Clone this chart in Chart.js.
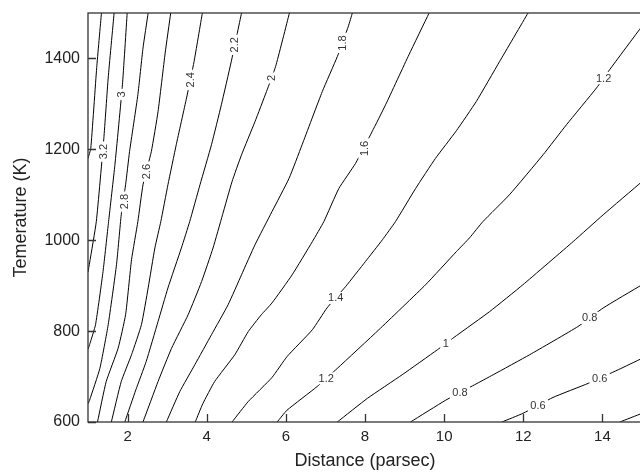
<!DOCTYPE html>
<html>
<head>
<meta charset="utf-8">
<script src="https://cdn.jsdelivr.net/npm/chart.js@4.4.0/dist/chart.umd.min.js"></script>
<style>
  html, body { margin: 0; padding: 0; background: #fff; overflow: hidden; }
  #wrap { width: 644px; height: 472px; }
</style>
</head>
<body>
<div id="wrap"><canvas id="chart" width="644" height="472"></canvas></div>
<script>
// axis ticks
const xTicks = [2, 4, 6, 8, 10, 12, 14];
const yTicks = [600, 800, 1000, 1200, 1400];

// contour lines (distance in parsec, temperature in K)
const dist34 = [1.34, 1.22, 1.07, 1.0];
const temp34 = [1500, 1380, 1202, 1180];
const dist32 = [1.66, 1.51, 1.40, 1.21, 1.04, 1.0];
const temp32 = [1500, 1357, 1224, 1041, 950, 930];
const dist30 = [1.99, 1.87, 1.68, 1.52, 1.38, 1.19, 1.05, 1.0];
const temp30 = [1500, 1342, 1166, 1041, 931, 814, 773, 760];
const dist28 = [2.52, 2.39, 2.26, 2.05, 1.95, 1.84, 1.72, 1.51, 1.30, 1.04, 1.0];
const temp28 = [1500, 1423, 1320, 1195, 1122, 1056, 946, 814, 718, 648, 640];
const dist26 = [3.09, 2.95, 2.77, 2.60, 2.39, 2.26, 2.10, 1.95, 1.76, 1.46, 1.24];
const temp26 = [1500, 1412, 1283, 1195, 1122, 1041, 957, 836, 762, 689, 600];
const dist24 = [3.89, 3.68, 3.49, 3.23, 3.02, 2.84, 2.69, 2.52, 2.35, 2.10, 1.84, 1.59];
const temp24 = [1500, 1393, 1313, 1210, 1122, 1041, 983, 895, 814, 748, 689, 600];
const dist22 = [4.88, 4.62, 4.37, 4.12, 3.83, 3.57, 3.36, 3.02, 2.77, 2.47, 2.21, 1.93];
const temp22 = [1500, 1393, 1298, 1210, 1122, 1041, 983, 895, 821, 733, 671, 600];
const dist20 = [6.09, 5.74, 5.51, 5.22, 4.88, 4.64, 4.40, 4.16, 3.87, 3.53, 3.11, 2.77, 2.39];
const temp20 = [1500, 1382, 1327, 1261, 1188, 1129, 1056, 983, 909, 836, 762, 689, 600];
const dist18 = [7.68, 7.58, 7.30, 6.92, 6.41, 6.08, 5.65, 5.22, 4.88, 4.54, 4.12, 3.70, 3.32, 2.98];
const temp18 = [1500, 1471, 1404, 1327, 1210, 1136, 1063, 990, 924, 858, 792, 726, 667, 600];
const dist16 = [9.62, 9.11, 8.52, 8.18, 7.76, 7.34, 6.96, 6.67, 6.16, 5.65, 5.38, 5.05, 4.71, 4.20, 3.90, 3.71];
const temp16 = [1500, 1408, 1298, 1239, 1169, 1114, 1041, 997, 924, 862, 836, 799, 748, 689, 640, 600];
const dist14 = [12.12, 11.40, 10.81, 10.31, 9.78, 9.28, 8.77, 8.44, 8.01, 7.51, 7.04, 6.67, 6.03, 5.65, 5.05, 4.64];
const temp14 = [1500, 1393, 1305, 1241, 1180, 1114, 1041, 1001, 953, 898, 851, 803, 744, 698, 645, 600];
const dist12 = [15, 14.18, 13.85, 13.09, 12.50, 11.65, 10.98, 10.64, 10.31, 9.53, 8.35, 7.30, 6.79, 6.03, 5.78];
const temp12 = [1471, 1375, 1335, 1254, 1188, 1100, 1041, 1005, 975, 902, 803, 718, 678, 626, 600];
const dist10 = [15, 14.02, 13.26, 11.99, 11.15, 10.31, 9.83, 8.94, 8.06, 7.30];
const temp10 = [1129, 1056, 997, 902, 843, 790, 759, 704, 652, 600];
const dist08 = [15, 14.02, 13.38, 12.16, 11.24, 10.77, 10.04, 9.15];
const temp08 = [902, 851, 810, 748, 704, 682, 648, 600];
const dist06 = [15, 14.40, 13.64, 12.75, 11.99, 11.46];
const temp06 = [740, 715, 685, 654, 619, 600];
const dist04 = [15, 14.44];
const temp04 = [619, 600];

const contourDist = [dist34, dist32, dist30, dist28, dist26, dist24, dist22, dist20, dist18, dist16, dist14, dist12, dist10, dist08, dist06, dist04];
const contourTemp = [temp34, temp32, temp30, temp28, temp26, temp24, temp22, temp20, temp18, temp16, temp14, temp12, temp10, temp08, temp06, temp04];

// contour labels (1 = upright text, 0 = turned along a steep line)
const labelText = ['3.2', '3', '2.8', '2.6', '2.4', '2.2', '2', '1.8', '1.6', '1.4', '1.2', '1.2', '1', '0.8', '0.8', '0.6', '0.6'];
const labelDist = [1.38, 1.85, 1.91, 2.49, 3.59, 4.71, 5.63, 7.43, 7.98, 7.26, 7.02, 14.03, 10.04, 10.40, 13.68, 12.37, 13.93];
const labelTemp = [1195, 1321, 1085, 1151, 1353, 1430, 1357, 1434, 1202, 873, 696, 1357, 773, 664, 829, 637, 696];
const labelUpright = [0, 0, 0, 0, 0, 0, 0, 0, 0, 1, 1, 1, 1, 1, 1, 1, 1];

const FONT = '"Liberation Sans", Arial, Helvetica, sans-serif';

// it is a good idea to wait for the DOM to load before drawing
document.addEventListener('DOMContentLoaded', function() {
    const datasets = contourDist.map(function(xs, i) {
        return {
            data: xs.map(function(d, j) { return {x: d, y: contourTemp[i][j]}; }),
            showLine: true,
            borderColor: '#000',
            borderWidth: 1,
            pointRadius: 0,
            tension: 0.15,
            fill: false
        };
    });

    // labels, frame and inward ticks drawn on top of the contours
    const contourExtras = {
        id: 'contourExtras',
        afterDatasetsDraw(chart) {
            const {ctx, chartArea: a, scales: {x, y}} = chart;
            ctx.save();
            ctx.font = '11px ' + FONT;
            ctx.textAlign = 'center';
            ctx.textBaseline = 'middle';
            labelText.forEach(function(t, i) {
                const px = x.getPixelForValue(labelDist[i]);
                const py = y.getPixelForValue(labelTemp[i]);
                ctx.save();
                ctx.translate(px, py);
                if (!labelUpright[i]) ctx.rotate(-Math.PI / 2);
                const w = ctx.measureText(t).width + 5;
                ctx.fillStyle = '#fff';
                ctx.fillRect(-w / 2, -6, w, 12);
                ctx.fillStyle = '#333';
                ctx.fillText(t, 0, 0.5);
                ctx.restore();
            });

            ctx.strokeStyle = '#333';
            ctx.lineWidth = 1.3;
            ctx.strokeRect(a.left, a.top, a.width, a.height);

            ctx.beginPath();
            xTicks.forEach(function(v) {
                const p = Math.round(x.getPixelForValue(v)) + 0.5;
                ctx.moveTo(p, a.bottom);
                ctx.lineTo(p, a.bottom - 8);
            });
            yTicks.forEach(function(v) {
                const p = Math.round(y.getPixelForValue(v)) + 0.5;
                ctx.moveTo(a.left, p);
                ctx.lineTo(a.left + 8, p);
            });
            ctx.stroke();
            ctx.restore();
        }
    };

    new Chart(document.getElementById('chart'), {
        type: 'scatter',
        data: { datasets: datasets },
        options: {
            responsive: false,
            animation: false,
            devicePixelRatio: 1,
            layout: { padding: { top: 13, right: 2, left: 0, bottom: 0 } },
            plugins: { legend: { display: false }, tooltip: { enabled: false } },
            scales: {
                x: {
                    type: 'linear',
                    min: 1,
                    max: 15,
                    afterBuildTicks: function(s) { s.ticks = xTicks.map(function(v) { return {value: v}; }); },
                    afterFit: function(s) { s.height = 50; s.paddingLeft = 0; s.paddingRight = 0; },
                    grid: { display: false, drawTicks: false },
                    border: { display: false },
                    ticks: { color: '#222', padding: 6, font: { family: FONT, size: 15 }, callback: function(v) { return String(v); } },
                    title: { display: true, text: 'Distance (parsec)', color: '#222', padding: { top: 0, bottom: 0 }, font: { family: FONT, size: 18 } }
                },
                y: {
                    type: 'linear',
                    min: 600,
                    max: 1500,
                    afterBuildTicks: function(s) { s.ticks = yTicks.map(function(v) { return {value: v}; }); },
                    afterFit: function(s) { s.width = 88; s.paddingTop = 0; s.paddingBottom = 0; },
                    grid: { display: false, drawTicks: false },
                    border: { display: false },
                    ticks: { color: '#222', padding: 8, font: { family: FONT, size: 16 }, callback: function(v) { return String(v); } },
                    title: { display: true, text: 'Temerature (K)', color: '#222', padding: { top: 10, bottom: 0 }, font: { family: FONT, size: 18 } }
                }
            }
        },
        plugins: [contourExtras]
    });
});
</script>
</body>
</html>
